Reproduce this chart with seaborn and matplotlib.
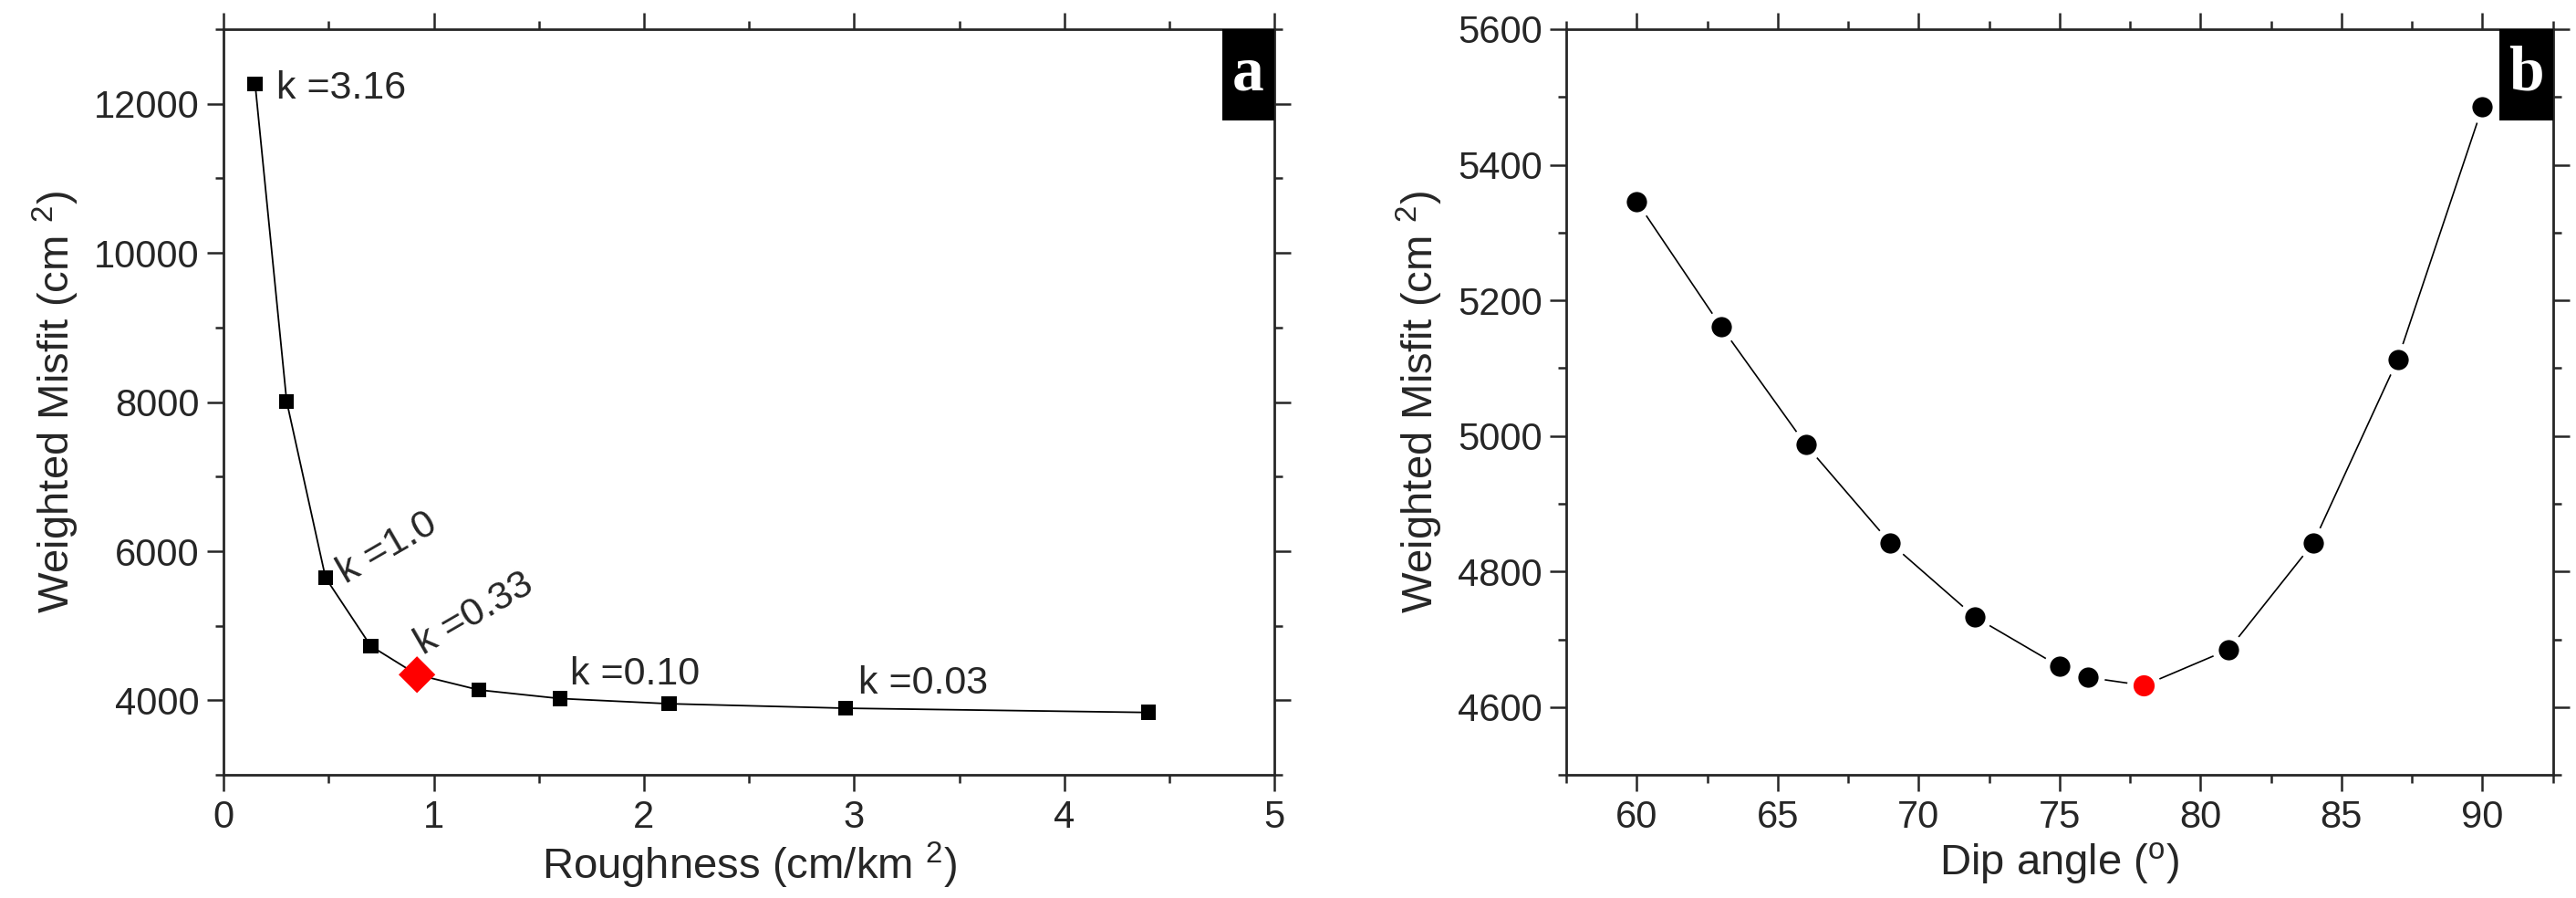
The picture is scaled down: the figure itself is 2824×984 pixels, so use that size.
import numpy as np
import pandas as pd
import matplotlib
matplotlib.use('Agg')
import matplotlib.pyplot as plt
import seaborn as sns
from matplotlib.ticker import MultipleLocator
from matplotlib.patches import Rectangle

# panel a: trade-off curve (roughness vs misfit)
roughness = [0.15, 0.30, 0.485, 0.70, 0.92, 1.215, 1.60, 2.12, 2.96, 4.40]
misfit_a = [12265, 8010, 5645, 4730, 4345, 4140, 4025, 3955, 3895, 3838]
best_a = 4  # chosen smoothing (k = 0.33)

k_text = ['k =3.16', 'k =1.0', 'k =0.33', 'k =0.10', 'k =0.03']

# panel b: misfit vs dip angle
dip = [60, 63, 66, 69, 72, 75, 76, 78, 81, 84, 87, 90]
misfit_b = [5346, 5161, 4987, 4842, 4733, 4660, 4644, 4632, 4685, 4842, 5113, 5485]
best_b = 7  # 78 degrees

sns.set_style('ticks')
plt.rcParams['font.family'] = ['Liberation Sans', 'DejaVu Sans']
plt.rcParams['mathtext.default'] = 'regular'
plt.rcParams['axes.linewidth'] = 2.0

fig = plt.figure(figsize=(28.24, 9.84), dpi=100)
ax1 = fig.add_axes([0.0868, 0.137, 0.408, 0.8305])
ax2 = fig.add_axes([0.608, 0.137, 0.383, 0.8305])

df_a = pd.DataFrame({'roughness': roughness, 'misfit': misfit_a})
df_b = pd.DataFrame({'dip': dip, 'misfit': misfit_b})

# --- panel a ---
sns.lineplot(data=df_a, x='roughness', y='misfit', color='black', lw=1.3, ax=ax1)
sns.scatterplot(data=df_a.drop(index=best_a), x='roughness', y='misfit', marker='s',
                s=140, color='black', edgecolor='none', ax=ax1, zorder=3)
sns.scatterplot(data=df_a.iloc[[best_a]], x='roughness', y='misfit', marker='D',
                s=420, color='red', edgecolor='none', ax=ax1, zorder=4)

# k annotations
label_pos = [(0.25, 12200, 0), (0.58, 5560, 30), (0.95, 4600, 30), (1.65, 4210, 0), (3.02, 4090, 0)]
for txt, (lx, ly, rot) in zip(k_text, label_pos):
    ax1.text(lx, ly, txt, fontsize=31, rotation=rot, rotation_mode='anchor',
             ha='left', va='center' if rot == 0 and lx < 0.5 else 'baseline')

ax1.set_xlim(0, 5)
ax1.set_ylim(3000, 13000)
ax1.xaxis.set_major_locator(MultipleLocator(1))
ax1.xaxis.set_minor_locator(MultipleLocator(0.5))
ax1.yaxis.set_major_locator(MultipleLocator(2000))
ax1.yaxis.set_minor_locator(MultipleLocator(1000))
ax1.set_yticks([4000, 6000, 8000, 10000, 12000])
ax1.set_xlabel(r'Roughness (cm/km $^2$)', fontsize=34, labelpad=4)
ax1.set_ylabel(r'Weighted Misfit (cm $^2$)', fontsize=34, labelpad=10)

# --- panel b ---
sns.lineplot(data=df_b, x='dip', y='misfit', color='black', lw=1.2, ax=ax2)
sns.scatterplot(data=df_b.drop(index=best_b), x='dip', y='misfit', marker='o',
                s=441, color='black', edgecolor='white', linewidth=5, ax=ax2, zorder=3)
sns.scatterplot(data=df_b.iloc[[best_b]], x='dip', y='misfit', marker='o',
                s=470, color='red', edgecolor='white', linewidth=5, ax=ax2, zorder=4)

ax2.set_xlim(57.5, 92.5)
ax2.set_ylim(4500, 5600)
ax2.xaxis.set_major_locator(MultipleLocator(5))
ax2.xaxis.set_minor_locator(MultipleLocator(2.5))
ax2.yaxis.set_major_locator(MultipleLocator(200))
ax2.yaxis.set_minor_locator(MultipleLocator(100))
ax2.set_xlabel(r'Dip angle ($^o$)', fontsize=34, labelpad=4)
ax2.set_ylabel(r'Weighted Misfit (cm $^2$)', fontsize=34, labelpad=10)

for ax, letter, bw in [(ax1, 'a', 0.050), (ax2, 'b', 0.054)]:
    ax.tick_params(which='both', direction='out', top=True, right=True,
                   labeltop=False, labelright=False, width=1.8, labelsize=30, pad=6)
    ax.tick_params(which='major', length=13)
    ax.tick_params(which='minor', length=6.5)
    for sp in ax.spines.values():
        sp.set_visible(True)
        sp.set_linewidth(2.0)
    ax.add_patch(Rectangle((1 - bw, 1 - 0.122), bw, 0.122, transform=ax.transAxes,
                           facecolor='black', edgecolor='none', zorder=5, clip_on=False))
    ax.text(1 - bw / 2, 1 - 0.061, letter, transform=ax.transAxes, color='white',
            fontsize=50, fontweight='bold', family=['Liberation Serif', 'DejaVu Serif'],
            ha='center', va='center', zorder=6)

fig.savefig('out.png', dpi=100)
